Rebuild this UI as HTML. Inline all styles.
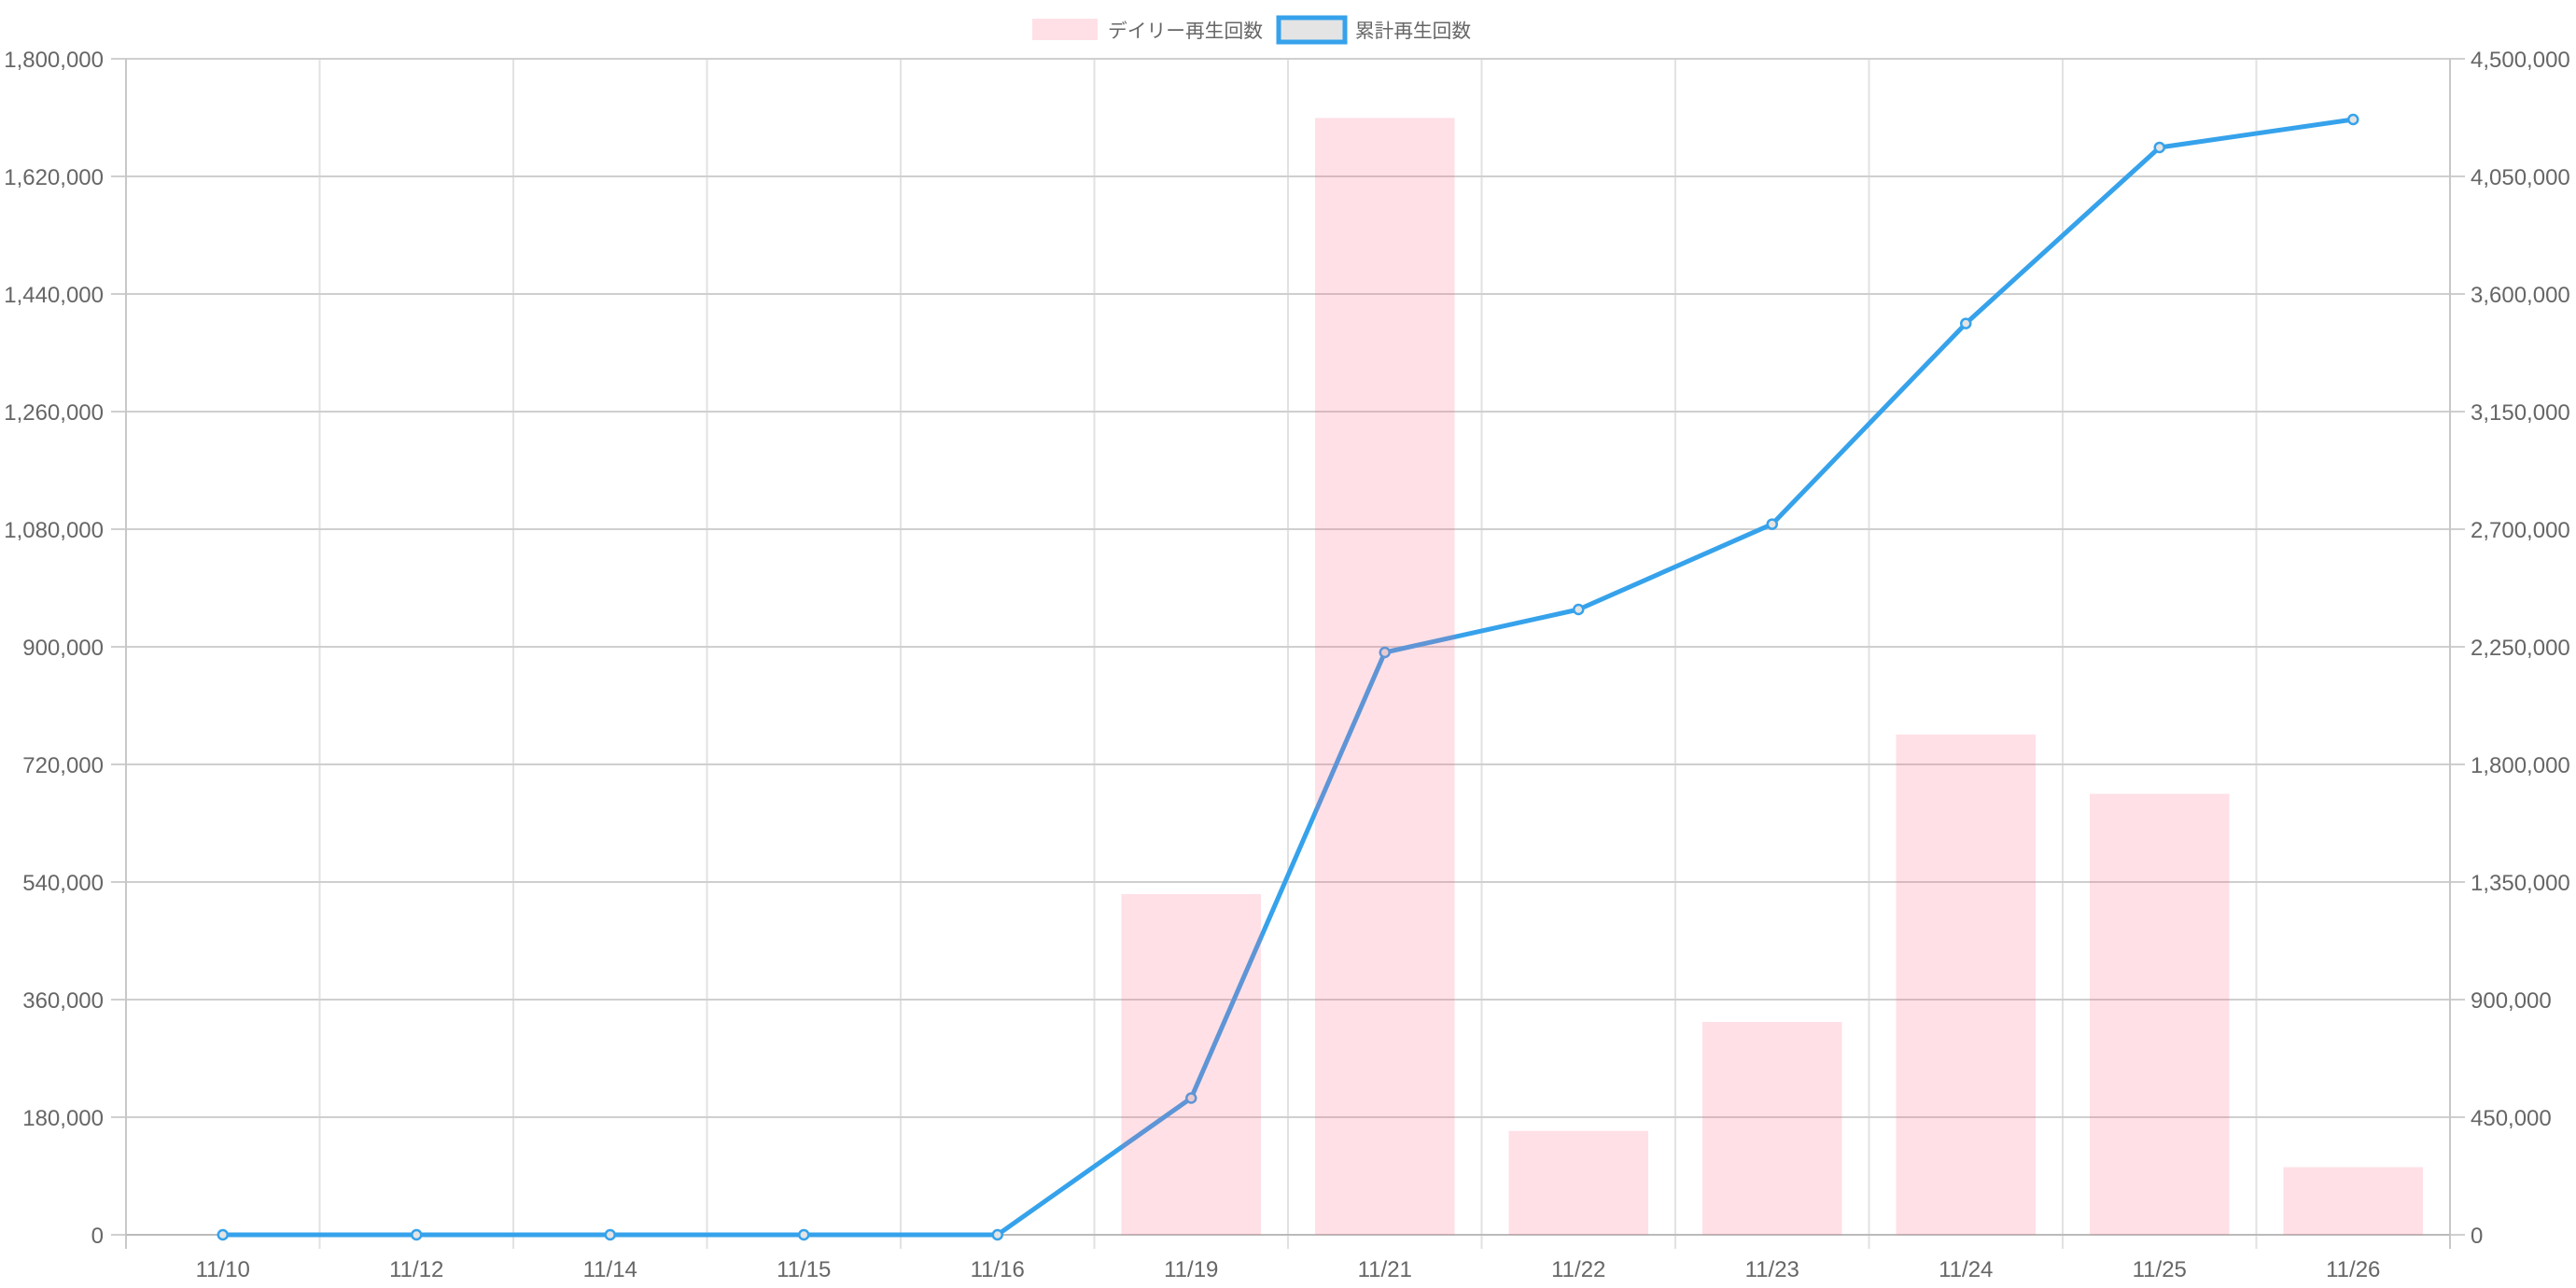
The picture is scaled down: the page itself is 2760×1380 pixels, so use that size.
<!DOCTYPE html>
<html><head><meta charset="utf-8"><style>
html,body{margin:0;padding:0;background:#fff;}
svg{display:block;}
text{font-family:"Liberation Sans","Noto Sans CJK JP",sans-serif;fill:#666;font-size:24px;}
text.lg{font-family:"Noto Sans CJK JP",sans-serif;font-size:20.5px;}
</style></head><body>
<svg width="2760" height="1380" viewBox="0 0 2760 1380" xmlns="http://www.w3.org/2000/svg">
<!-- legend -->
<rect x="1106" y="20" width="70" height="23" fill="#FFE0E6"/>
<text class="lg" x="1187" y="40" textLength="166" lengthAdjust="spacingAndGlyphs">デイリー再生回数</text>
<rect x="1370" y="19" width="71" height="26" fill="#e4e4e4" stroke="#36A2EB" stroke-width="5"/>
<text class="lg" x="1452" y="40" textLength="124" lengthAdjust="spacingAndGlyphs">累計再生回数</text>
<!-- vertical grid -->
<g stroke="#e2e2e2" stroke-width="2">
<line x1="342.5" y1="63" x2="342.5" y2="1338"/><line x1="550" y1="63" x2="550" y2="1338"/>
<line x1="757.5" y1="63" x2="757.5" y2="1338"/><line x1="965" y1="63" x2="965" y2="1338"/>
<line x1="1172.5" y1="63" x2="1172.5" y2="1338"/><line x1="1380" y1="63" x2="1380" y2="1338"/>
<line x1="1587.5" y1="63" x2="1587.5" y2="1338"/><line x1="1795" y1="63" x2="1795" y2="1338"/>
<line x1="2002.5" y1="63" x2="2002.5" y2="1338"/><line x1="2210" y1="63" x2="2210" y2="1338"/>
<line x1="2417.5" y1="63" x2="2417.5" y2="1338"/>
</g>
<!-- horizontal grid -->
<g stroke="#cfcfcf" stroke-width="2">
<line x1="119" y1="63" x2="2641" y2="63"/><line x1="119" y1="189" x2="2641" y2="189"/>
<line x1="119" y1="315" x2="2641" y2="315"/><line x1="119" y1="441" x2="2641" y2="441"/>
<line x1="119" y1="567" x2="2641" y2="567"/><line x1="119" y1="693" x2="2641" y2="693"/>
<line x1="119" y1="819" x2="2641" y2="819"/><line x1="119" y1="945" x2="2641" y2="945"/>
<line x1="119" y1="1071" x2="2641" y2="1071"/><line x1="119" y1="1197" x2="2641" y2="1197"/>
<line x1="119" y1="1323" x2="2641" y2="1323"/>
</g>
<g stroke="#c8c8c8" stroke-width="2">
<line x1="135" y1="63" x2="135" y2="1338"/><line x1="2625" y1="63" x2="2625" y2="1338"/>
<line x1="135" y1="1323" x2="2625" y2="1323" stroke="#bbb"/>
</g>
<!-- line -->
<polyline fill="none" stroke="#36A2EB" stroke-width="5" stroke-linejoin="round"
points="238.75,1323 446.25,1323 653.75,1323 861.25,1323 1068.75,1323 1276.25,1176.5 1483.75,699 1691.25,653 1898.75,561.6 2106.25,346.6 2313.75,158 2521.25,128"/>
<g fill="#e4e4e4" stroke="#36A2EB" stroke-width="2.5">
<circle cx="238.75" cy="1323" r="5"/><circle cx="446.25" cy="1323" r="5"/><circle cx="653.75" cy="1323" r="5"/>
<circle cx="861.25" cy="1323" r="5"/><circle cx="1068.75" cy="1323" r="5"/><circle cx="1276.25" cy="1176.5" r="5"/>
<circle cx="1483.75" cy="699" r="5"/><circle cx="1691.25" cy="653" r="5"/><circle cx="1898.75" cy="561.6" r="5"/>
<circle cx="2106.25" cy="346.6" r="5"/><circle cx="2313.75" cy="158" r="5"/><circle cx="2521.25" cy="128" r="5"/>
</g>
<!-- bars -->
<g fill="rgba(255,99,132,0.2)">
<rect x="1201.5" y="958" width="149.5" height="365"/>
<rect x="1409" y="126.4" width="149.5" height="1196.6"/>
<rect x="1616.5" y="1211.7" width="149.5" height="111.3"/>
<rect x="1824" y="1095" width="149.5" height="228"/>
<rect x="2031.5" y="787" width="149.5" height="536"/>
<rect x="2239" y="850.5" width="149.5" height="472.5"/>
<rect x="2446.5" y="1250.5" width="149.5" height="72.5"/>
</g>
<!-- left labels -->
<g text-anchor="end">
<text x="111" y="72">1,800,000</text><text x="111" y="198">1,620,000</text>
<text x="111" y="324">1,440,000</text><text x="111" y="450">1,260,000</text>
<text x="111" y="576">1,080,000</text><text x="111" y="702">900,000</text>
<text x="111" y="828">720,000</text><text x="111" y="954">540,000</text>
<text x="111" y="1080">360,000</text><text x="111" y="1206">180,000</text>
<text x="111" y="1332">0</text>
</g>
<g text-anchor="start">
<text x="2647" y="72">4,500,000</text><text x="2647" y="198">4,050,000</text>
<text x="2647" y="324">3,600,000</text><text x="2647" y="450">3,150,000</text>
<text x="2647" y="576">2,700,000</text><text x="2647" y="702">2,250,000</text>
<text x="2647" y="828">1,800,000</text><text x="2647" y="954">1,350,000</text>
<text x="2647" y="1080">900,000</text><text x="2647" y="1206">450,000</text>
<text x="2647" y="1332">0</text>
</g>
<g text-anchor="middle">
<text x="238.75" y="1368">11/10</text><text x="446.25" y="1368">11/12</text>
<text x="653.75" y="1368">11/14</text><text x="861.25" y="1368">11/15</text>
<text x="1068.75" y="1368">11/16</text><text x="1276.25" y="1368">11/19</text>
<text x="1483.75" y="1368">11/21</text><text x="1691.25" y="1368">11/22</text>
<text x="1898.75" y="1368">11/23</text><text x="2106.25" y="1368">11/24</text>
<text x="2313.75" y="1368">11/25</text><text x="2521.25" y="1368">11/26</text>
</g>
</svg>
</body></html>
